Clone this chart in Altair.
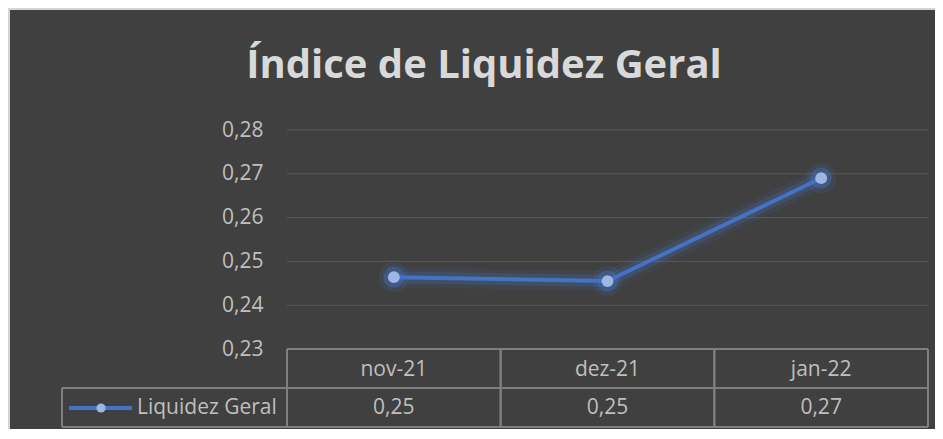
import altair as alt
import pandas as pd

# ---- data ----
categories = ["nov-21", "dez-21", "jan-22"]
values = [0.2464, 0.2455, 0.2690]
series_name = "Liquidez Geral"
title_text = "Índice de Liquidez Geral"
y_ticks = [0.23, 0.24, 0.25, 0.26, 0.27, 0.28]

# ---- layout / style ----
W, H = 641, 219
ROW1, ROW2 = 39, 78          # table row bottoms (px below plot)
LEG_LEFT = -225              # legend cell left edge (px)
FONT = "Open Sans"
TXT = "#bfbfbf"
TITLE_C = "#d9d9d9"
BORDER = "#7f7f7f"
GRID = "#595959"
BG = "#404040"
FRAME = "#d4d4d4"
BLUE = "#4472c4"
MARK = "#9db6e4"

df = pd.DataFrame({"cat": categories, "v": values})
ticks_df = pd.DataFrame({"v": y_ticks})
one = pd.DataFrame({"k": [0]})

xs = alt.Scale(type="band", domain=categories, paddingInner=0, paddingOuter=0)
ys = alt.Scale(domain=[0.23, 0.28], zero=False, nice=False)
label_expr = "replace(format(datum.value, '.2f'), '.', ',')"


def y_enc(field="v"):
    return alt.Y(
        f"{field}:Q",
        scale=ys,
        title=None,
        axis=alt.Axis(
            values=y_ticks, grid=False, ticks=False, tickSize=0, domain=False,
            labelExpr=label_expr, labelFont=FONT, labelFontSize=21,
            labelColor=TXT, labelPadding=24, zindex=1, title=None,
        ),
    )


def x_enc(bp=0.5):
    return alt.X("cat:N", scale=xs, sort=categories, axis=None, title=None,
                 bandPosition=bp)


bg = alt.Chart(one).mark_rect(color=BG).encode(
    x=alt.value(-277), x2=alt.value(W + 60), y=alt.value(-120), y2=alt.value(H + 140)
)

grid = alt.Chart(ticks_df).mark_rule(color=GRID, strokeWidth=1).encode(
    y=y_enc(), x=alt.value(0), x2=alt.value(W)
)

# table borders
h_top = alt.Chart(one).mark_rule(color=BORDER, strokeWidth=2).encode(
    x=alt.value(0), x2=alt.value(W), y=alt.value(H))
h_mid = alt.Chart(one).mark_rule(color=BORDER, strokeWidth=2).encode(
    x=alt.value(LEG_LEFT), x2=alt.value(W), y=alt.value(H + ROW1))
h_bot = alt.Chart(one).mark_rule(color=BORDER, strokeWidth=2).encode(
    x=alt.value(LEG_LEFT), x2=alt.value(W), y=alt.value(H + ROW2))
v_leg = alt.Chart(one).mark_rule(color=BORDER, strokeWidth=2).encode(
    x=alt.value(LEG_LEFT), y=alt.value(H + ROW1), y2=alt.value(H + ROW2))
v_left = alt.Chart(df).mark_rule(color=BORDER, strokeWidth=2).encode(
    x=x_enc(0), y=alt.value(H), y2=alt.value(H + ROW2))
v_right = alt.Chart(df).mark_rule(color=BORDER, strokeWidth=2).encode(
    x=x_enc(1), y=alt.value(H), y2=alt.value(H + ROW2))

# series with glow
glow1 = alt.Chart(df).mark_line(color=BLUE, strokeWidth=20, opacity=0.10, strokeCap="round").encode(
    x=x_enc(), y=y_enc())
glow2 = alt.Chart(df).mark_line(color=BLUE, strokeWidth=12, opacity=0.20, strokeCap="round").encode(
    x=x_enc(), y=y_enc())
line = alt.Chart(df).mark_line(color=BLUE, strokeWidth=4).encode(x=x_enc(), y=y_enc())
pglow1 = alt.Chart(df).mark_circle(color=BLUE, size=900, opacity=0.15).encode(x=x_enc(), y=y_enc())
pglow2 = alt.Chart(df).mark_circle(color=BLUE, size=450, opacity=0.35).encode(x=x_enc(), y=y_enc())
pts = alt.Chart(df).mark_circle(color=MARK, size=140, opacity=1).encode(x=x_enc(), y=y_enc())

# table text
hdr = alt.Chart(df).mark_text(font=FONT, fontSize=21, color=TXT, baseline="alphabetic", align="center").encode(
    x=x_enc(), y=alt.value(H + 27), text="cat:N")
vals = alt.Chart(df).transform_calculate(
    label="replace(format(datum.v, '.2f'), '.', ',')"
).mark_text(font=FONT, fontSize=21, color=TXT, baseline="alphabetic", align="center").encode(
    x=x_enc(), y=alt.value(H + 65), text="label:N")

# legend key
leg_line = alt.Chart(one).mark_rule(color=BLUE, strokeWidth=4).encode(
    x=alt.value(-218), x2=alt.value(-155), y=alt.value(H + 59))
leg_pt = alt.Chart(one).mark_circle(color=MARK, size=85, opacity=1).encode(
    x=alt.value(-186), y=alt.value(H + 59))
leg_txt = alt.Chart(pd.DataFrame({"s": [series_name]})).mark_text(
    font=FONT, fontSize=21, color=TXT, baseline="alphabetic", align="left").encode(
    x=alt.value(-150), y=alt.value(H + 65), text="s:N")

title = alt.Chart(pd.DataFrame({"t": [title_text]})).mark_text(
    font=FONT, fontSize=40, fontWeight="bold", color=TITLE_C, baseline="alphabetic", align="center").encode(
    x=alt.value(197), y=alt.value(-52), text="t:N")

chart = alt.layer(
    bg, grid, h_top, h_mid, h_bot, v_leg, v_left, v_right,
    glow1, glow2, line, pglow1, pglow2, pts,
    hdr, vals, leg_line, leg_pt, leg_txt, title,
).properties(
    width=W, height=H,
    padding={"left": 279, "top": 122, "right": 7, "bottom": 80},
    autosize=alt.AutoSizeParams(type="none"),
    background=FRAME,
).configure_view(stroke=None)

chart.save("out.html", embed_options={"renderer": "svg", "actions": False})
